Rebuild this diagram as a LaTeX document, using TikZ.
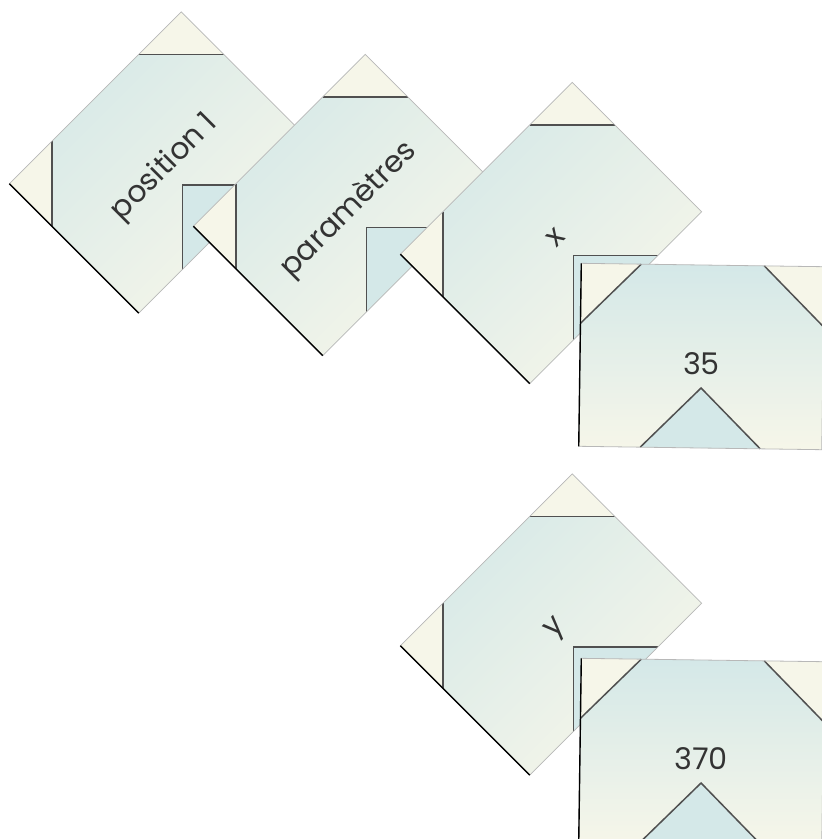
\documentclass[tikz,border=0pt]{standalone}
\usepackage{fontspec}
\newfontfamily\handfont{Poppins}
\definecolor{cardblue}{HTML}{D4E8E8}
\definecolor{cardcream}{HTML}{F6F6E9}
\definecolor{cardline}{HTML}{505050}
\definecolor{cardedge}{HTML}{B8B8B8}
\definecolor{cardtext}{HTML}{333333}
\tikzset{every node/.style={font=\handfont\fontsize{30}{34}\selectfont,text=cardtext},
  cornerpiece/.style={fill=cardcream},
  notchpiece/.style={fill=cardblue},
  foldline/.style={draw=cardline,line width=1.5pt},
  pics/card/.style n args={2}{code={
    \shade[top color=cardblue,bottom color=cardcream,shading angle=#1]
      (-121.5,-91.5) rectangle (121.5,91.5);
    \fill[cornerpiece] (-121.5,-91.5) -- (-61.5,-91.5) -- (-121.5,-31.5) -- cycle;
    \fill[cornerpiece] (121.5,-91.5) -- (61.5,-91.5) -- (121.5,-31.5) -- cycle;
    \fill[notchpiece] (-60,91.5) -- (0,31.5) -- (60,91.5) -- cycle;
    \draw[foldline] (-61.5,-91.5) -- (-121.5,-31.5);
    \draw[foldline] (61.5,-91.5) -- (121.5,-31.5);
    \draw[foldline] (-60,91.5) -- (0,31.5) -- (60,91.5);
    \draw[draw=cardedge,line width=0.8pt] (-121.5,-91.5) rectangle (121.5,91.5);
    \draw[black,line width=1.4pt] (-121.5,-91.5) -- (-121.5,91.5);
    \node[transform shape] (-label) at (0,7) {#2};
  }}}

\begin{document}
\begin{tikzpicture}[x=1pt,y=-1pt]
  \fill[white] (0,0) rectangle (822,839);
  \useasboundingbox (0,0) rectangle (822,839);
  \clip (0,0) rectangle (822,839);
  % first branch
  \pic[rotate=45] (pos) at (160,162.5) {card={45}{position 1}};
  \pic[rotate=45] (param) at (344,205) {card={45}{paramètres}};
  \pic[rotate=45] (xname) at (551,233) {card={45}{x}};
  \pic[rotate=-0.8] (xval) at (701.5,356.5) {card={0}{35}};
  % second branch
  \pic[rotate=45] (yname) at (551,624.5) {card={45}{y}};
  \pic[rotate=-0.8] (yval) at (701.5,751.5) {card={0}{370}};
\end{tikzpicture}
\end{document}
